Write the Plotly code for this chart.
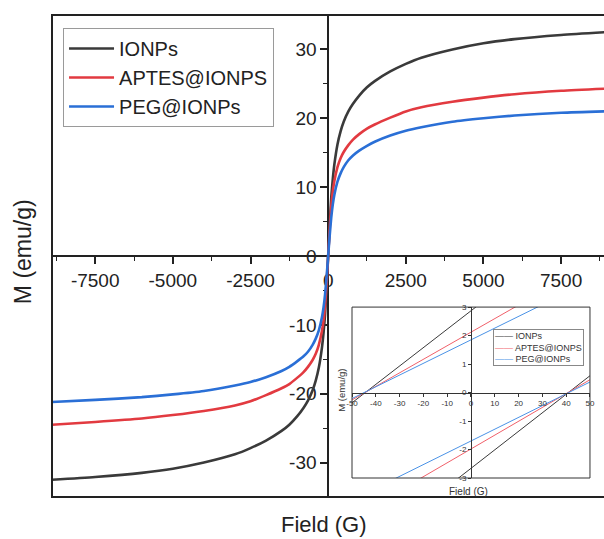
import plotly.graph_objects as go

# ---------------- data ----------------
field = [-8900, -7500, -6000, -5000, -4000, -3000, -2500, -2000, -1500, -1250,
         -1000, -800, -650, -500, -400, -300, -200, -150, -100, -50, 0,
         50, 100, 150, 200, 300, 400, 500, 650, 800, 1000, 1250, 1500, 2000,
         2500, 3000, 4000, 5000, 6000, 7500, 8900]

m_ionps = [-32.5, -32.1, -31.5, -30.9, -30.0, -28.8, -27.9, -26.8, -25.4, -24.5,
           -23.3, -22.1, -21.0, -19.5, -18.1, -16.2, -13.3, -11.2, -8.5, -4.5, 0.0,
           4.5, 8.5, 11.2, 13.3, 16.2, 18.1, 19.5, 21.0, 22.1, 23.3, 24.5, 25.4, 26.8,
           27.9, 28.8, 30.0, 30.9, 31.5, 32.1, 32.5]

m_aptes = [-24.5, -24.1, -23.6, -23.1, -22.5, -21.7, -21.1, -20.2, -19.2, -18.6,
           -17.7, -16.9, -16.1, -15.1, -14.2, -12.9, -10.9, -9.4, -7.2, -4.0, 0.0,
           4.0, 7.2, 9.4, 10.9, 12.9, 14.2, 15.1, 16.1, 16.9, 17.7, 18.5, 19.1, 20.1,
           21.0, 21.6, 22.4, 23.0, 23.5, 24.0, 24.3]

m_peg = [-21.2, -20.9, -20.5, -20.1, -19.6, -18.8, -18.3, -17.6, -16.7, -16.1,
         -15.3, -14.6, -13.9, -12.9, -12.0, -10.8, -8.9, -7.5, -5.6, -3.0, 0.0,
         3.0, 5.6, 7.5, 8.9, 10.8, 12.0, 12.9, 13.9, 14.6, 15.3, 16.0, 16.6, 17.5,
         18.2, 18.7, 19.5, 20.0, 20.4, 20.8, 21.0]

series_names = ["IONPs", "APTES@IONPS", "PEG@IONPs"]

# inset (low-field hysteresis)
inset_field = [-50, -25, 0, 25, 50]
inset_upper = {
    "IONPs": [-0.36, 1.26, 2.87, 4.48, 6.10],
    "APTES@IONPS": [-0.26, 0.93, 2.12, 3.31, 4.50],
    "PEG@IONPs": [-0.21, 0.82, 1.85, 2.88, 3.91],
}
inset_lower = {
    "IONPs": [-5.91, -4.29, -2.66, -1.04, 0.59],
    "APTES@IONPS": [-4.41, -3.19, -1.98, -0.77, 0.45],
    "PEG@IONPs": [-3.77, -2.73, -1.70, -0.67, 0.37],
}

# tick labels
x_ticks = [-7500, -5000, -2500, 0, 2500, 5000, 7500]
y_ticks = [-30, -20, -10, 0, 10, 20, 30]
ix_ticks = [-50, -40, -30, -20, -10, 0, 10, 20, 30, 40, 50]
iy_ticks = [-3, -2, -1, 0, 1, 2, 3]

def lab(v):
    return str(v)

# ---------------- styles ----------------
colors = {"IONPs": "#3a3a3a", "APTES@IONPS": "#e23a40", "PEG@IONPs": "#2a6fd6"}
inset_colors = {"IONPs": "#3a3a3a", "APTES@IONPS": "#f0606a", "PEG@IONPs": "#4a92e6"}
FONT = "Liberation Sans, Arial, sans-serif"

x_range = [-8890, 8880]
y_range = [-35, 35]

fig = go.Figure()

main_data = {"IONPs": m_ionps, "APTES@IONPS": m_aptes, "PEG@IONPs": m_peg}
for name in series_names:
    fig.add_trace(go.Scatter(
        x=field, y=main_data[name], mode="lines", name=name,
        line=dict(color=colors[name], width=2.6, shape="spline", smoothing=0.6),
        legend="legend",
    ))

for name in series_names:
    for branch in (inset_upper, inset_lower):
        fig.add_trace(go.Scatter(
            x=inset_field, y=branch[name], mode="lines", name=name,
            line=dict(color=inset_colors[name], width=1),
            xaxis="x2", yaxis="y2", showlegend=False, cliponaxis=True,
        ))

# positions of free (crossing) axes
y0_frac = (0 - y_range[0]) / (y_range[1] - y_range[0])
x0_frac = (0 - x_range[0]) / (x_range[1] - x_range[0])

in_xdom = [0.5435, 0.9746]
in_ydom = [0.0394, 0.394]

fig.update_layout(
    width=604, height=539,
    margin=dict(l=52, r=0, t=15, b=42),
    paper_bgcolor="white", plot_bgcolor="white",
    font=dict(family=FONT, color="#222"),
    xaxis=dict(
        range=x_range, anchor="free", position=y0_frac, showgrid=False, zeroline=False,
        showline=True, linecolor="#222", linewidth=1.6,
        tickmode="array", tickvals=x_ticks, ticktext=[lab(v) for v in x_ticks],
        ticks="outside", ticklen=7, tickwidth=1.5, tickcolor="#222",
        minor=dict(tickmode="linear", tick0=0, dtick=1250, ticks="outside",
                   ticklen=4, tickwidth=1.3, tickcolor="#222", showgrid=False),
        tickfont=dict(size=19, family=FONT, color="#222"), automargin=False,
        layer="below traces",
    ),
    yaxis=dict(
        range=y_range, anchor="free", position=x0_frac, showgrid=False, zeroline=False,
        showline=True, linecolor="#222", linewidth=1.6,
        tickmode="array", tickvals=y_ticks, ticktext=[lab(v) for v in y_ticks],
        ticks="outside", ticklen=7, tickwidth=1.5, tickcolor="#222",
        minor=dict(tickmode="linear", tick0=0, dtick=5, ticks="outside",
                   ticklen=4, tickwidth=1.3, tickcolor="#222", showgrid=False),
        tickfont=dict(size=19, family=FONT, color="#222"), automargin=False,
        layer="below traces",
    ),
    xaxis2=dict(
        domain=in_xdom, range=[-50, 50], anchor="free",
        position=(in_ydom[0] + in_ydom[1]) / 2, showgrid=False, zeroline=False,
        showline=True, linecolor="#333", linewidth=1,
        tickmode="array", tickvals=ix_ticks, ticktext=[lab(v) for v in ix_ticks],
        ticks="outside", ticklen=3, tickwidth=1, tickcolor="#333",
        tickfont=dict(size=8, family=FONT, color="#333"), automargin=False,
    ),
    yaxis2=dict(
        domain=in_ydom, range=[-3, 3], anchor="free",
        position=(in_xdom[0] + in_xdom[1]) / 2, showgrid=False, zeroline=False,
        showline=True, linecolor="#333", linewidth=1,
        tickmode="array", tickvals=iy_ticks, ticktext=[lab(v) for v in iy_ticks],
        ticks="outside", ticklen=3, tickwidth=1, tickcolor="#333",
        tickfont=dict(size=8, family=FONT, color="#333"), automargin=False,
    ),
    legend=dict(
        x=0.02, y=0.973, xanchor="left", yanchor="top",
        bgcolor="white", bordercolor="#9a9a9a", borderwidth=1,
        font=dict(size=20, family=FONT, color="#222"),
        itemwidth=45, tracegroupgap=0,
    ),
    showlegend=True,
)

# frames
fig.add_shape(type="rect", xref="paper", yref="paper", x0=0, x1=1.01, y0=0, y1=1,
              line=dict(color="#222", width=2), fillcolor="rgba(0,0,0,0)")
fig.add_shape(type="rect", xref="paper", yref="paper",
              x0=in_xdom[0], x1=in_xdom[1], y0=in_ydom[0], y1=in_ydom[1],
              line=dict(color="#333", width=1), fillcolor="rgba(0,0,0,0)")

# axis titles
fig.add_annotation(text="M (emu/g)", xref="paper", yref="paper", x=-0.0525, y=0.508,
                   textangle=-90, showarrow=False, xanchor="center", yanchor="middle",
                   font=dict(size=23, family=FONT, color="#222"))
fig.add_annotation(text="Field (G)", xref="paper", yref="paper", x=0.493, y=-0.057,
                   showarrow=False, xanchor="center", yanchor="middle",
                   font=dict(size=22, family=FONT, color="#222"))
fig.add_annotation(text="M (emu/g)", xref="paper", yref="paper", x=0.525, y=0.222,
                   textangle=-90, showarrow=False, xanchor="center", yanchor="middle",
                   font=dict(size=9.5, family=FONT, color="#333"))
fig.add_annotation(text="Field (G)", xref="paper", yref="paper", x=0.7554, y=0.0124,
                   showarrow=False, xanchor="center", yanchor="middle",
                   font=dict(size=10, family=FONT, color="#333"))

# inset legend (text based)
inset_legend_text = "<br>".join(
    f"<span style='color:{inset_colors[n]}'>\u2014\u2014</span> {n}" for n in series_names
)
fig.add_annotation(text=inset_legend_text, xref="paper", yref="paper",
                   x=0.799, y=0.3485, xanchor="left", yanchor="top", align="left",
                   showarrow=False, bgcolor="white", bordercolor="#888", borderwidth=1,
                   borderpad=1, font=dict(size=9, family=FONT, color="#333"))

fig.write_html("out.html")
